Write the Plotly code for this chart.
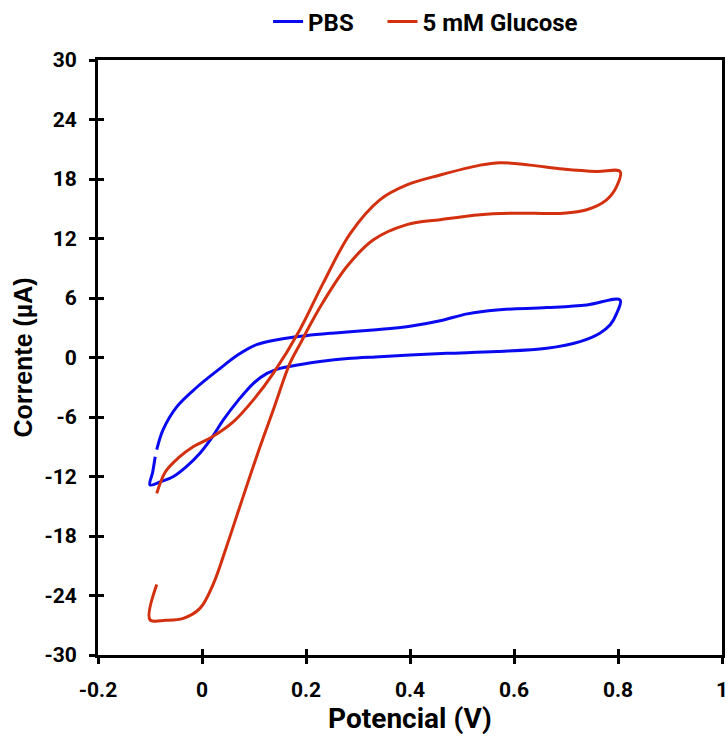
import plotly.graph_objects as go

# PBS cyclic voltammogram (V, µA)
pbs_x = [-0.090, -0.095, -0.100, -0.078, -0.055, -0.030, -0.004, 0.020, 0.041, 0.070, 0.099,
         0.125, 0.150, 0.190, 0.227, 0.280, 0.342, 0.400, 0.471, 0.567, 0.663, 0.727, 0.765,
         0.785, 0.797, 0.804,
         0.740, 0.663, 0.567, 0.510, 0.458, 0.400, 0.329, 0.250, 0.200, 0.150, 0.105,
         0.070, 0.030, -0.010, -0.049, -0.075, -0.087]
pbs_y = [-10.0, -11.6, -12.85, -12.5, -12.0, -11.0, -9.65, -8.0, -6.3, -4.3, -2.6,
         -1.6, -1.1, -0.7, -0.4, -0.1, 0.08, 0.25, 0.42, 0.60, 0.93, 1.6, 2.45,
         3.3, 4.4, 5.8,
         5.3, 5.03, 4.8, 4.4, 3.7, 3.15, 2.78, 2.45, 2.2, 1.85, 1.3,
         0.3, -1.3, -3.0, -5.0, -7.3, -9.3]

# 5 mM Glucose cyclic voltammogram (V, µA)
glu_x = [-0.087, -0.100, -0.070, -0.036, -0.004, 0.022, 0.047, 0.073, 0.105, 0.137,
         0.169, 0.190, 0.208, 0.233, 0.279, 0.329, 0.394, 0.458, 0.535, 0.600, 0.694, 0.740,
         0.778, 0.797, 0.804,
         0.759, 0.694, 0.631, 0.573, 0.535, 0.458, 0.394, 0.342, 0.285, 0.233, 0.188,
         0.137, 0.100, 0.060, 0.020, -0.017, -0.045, -0.070, -0.087]
glu_y = [-22.9, -26.45, -26.5, -26.3, -25.3, -22.8, -19.1, -15.0, -10.0, -5.3,
         -0.6, 1.5, 3.3, 5.6, 9.2, 11.85, 13.4, 13.9, 14.4, 14.55, 14.55, 14.9,
         15.9, 17.2, 18.75,
         18.75, 19.0, 19.4, 19.65, 19.4, 18.4, 17.4, 15.9, 12.5, 7.5, 2.78,
         -1.6, -4.2, -6.5, -8.0, -9.0, -10.1, -11.5, -13.7]

x_ticks = [-0.2, 0, 0.2, 0.4, 0.6, 0.8, 1]
x_labels = ["-0.2", "0", "0.2", "0.4", "0.6", "0.8", "1"]
y_ticks = [-30, -24, -18, -12, -6, 0, 6, 12, 18, 24, 30]
series_names = ["PBS", "5 mM Glucose"]

narrow = "Roboto, Liberation Sans, sans-serif"
arial = "Liberation Sans, Arial, sans-serif"
NB = "\u00a0"

fig = go.Figure()
fig.add_trace(go.Scatter(x=pbs_x, y=pbs_y, mode="lines",
                         name="<b>%s</b>%s" % (series_names[0], NB * 4),
                         line=dict(color="#0A0AF0", width=3, shape="spline", smoothing=1.0)))
fig.add_trace(go.Scatter(x=glu_x, y=glu_y, mode="lines",
                         name="<b>%s</b>" % series_names[1],
                         line=dict(color="#D2300E", width=3, shape="spline", smoothing=1.0)))

common_x = dict(range=[-0.2, 1], tickvals=x_ticks, showgrid=False, zeroline=False,
                automargin=False)
common_y = dict(range=[-30, 30], tickvals=y_ticks, showgrid=False, zeroline=False,
                automargin=False)

fig.update_layout(
    width=728, height=736,
    margin=dict(l=98, r=6, t=60, b=81, autoexpand=False),
    paper_bgcolor="white", plot_bgcolor="white",
    showlegend=True,
    legend=dict(orientation="h", x=0.525, xanchor="center", y=1.064, yanchor="middle",
                font=dict(family=narrow, size=24, color="black"),
                bgcolor="rgba(0,0,0,0)", itemwidth=30, tracegroupgap=0),
    xaxis=dict(**common_x, ticktext=["<b>%s</b>" % t for t in x_labels],
               ticks="outside", ticklen=6, tickwidth=3, tickcolor="black",
               showline=True, linewidth=3, linecolor="black", mirror=True,
               ticklabelstandoff=8, ticklabeloverflow="allow",
               tickfont=dict(family=narrow, size=21, color="black"),
               title=dict(text="<b>Potencial (V)</b>", standoff=5,
                          font=dict(family=narrow, size=28, color="black"))),
    yaxis=dict(**common_y, ticktext=["<b>%d</b>" % t for t in y_ticks],
               ticks="outside", ticklen=6, tickwidth=3, tickcolor="black",
               showline=True, linewidth=3, linecolor="black", mirror=True,
               ticklabelstandoff=8, ticklabeloverflow="allow",
               tickfont=dict(family=narrow, size=21, color="black"),
               title=dict(text="<b>Corrente (µA)</b>", standoff=5,
                          font=dict(family=arial, size=25, color="black"))),
    xaxis2=dict(**common_x, overlaying="x", side="bottom", ticks="inside", ticklen=6,
                tickwidth=3, tickcolor="black", showticklabels=False, showline=False),
    yaxis2=dict(**common_y, overlaying="y", side="left", ticks="inside", ticklen=6,
                tickwidth=3, tickcolor="black", showticklabels=False, showline=False),
)
# invisible trace to activate the secondary (inner tick) axes
fig.add_trace(go.Scatter(x=[-0.2], y=[-30], xaxis="x2", yaxis="y2", mode="markers",
                         marker=dict(opacity=0), showlegend=False, hoverinfo="skip"))

fig.write_html("out.html")
